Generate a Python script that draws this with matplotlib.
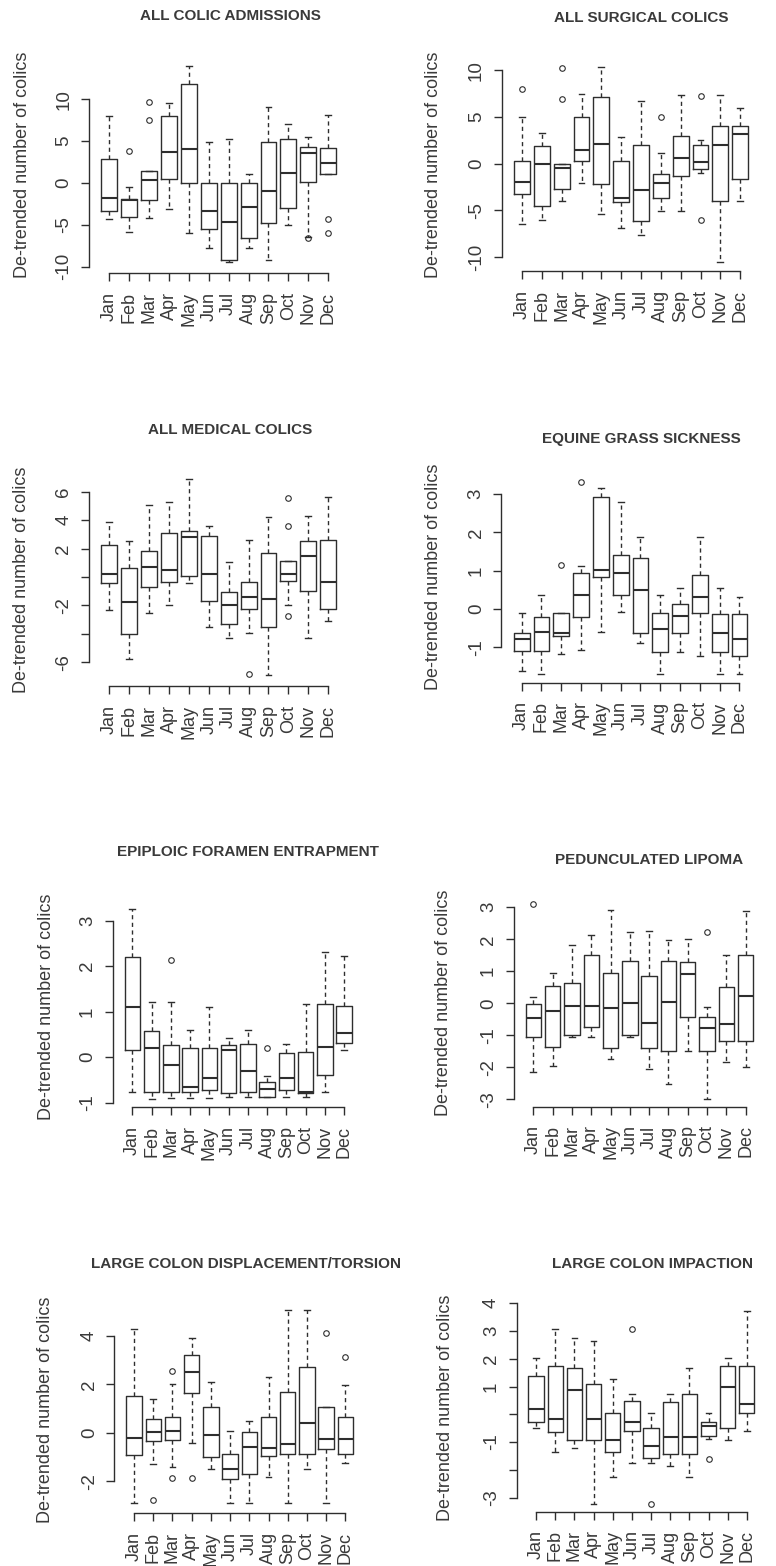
import matplotlib
matplotlib.use("Agg")
import matplotlib.pyplot as plt

plt.rcParams["font.family"] = ["Liberation Sans", "DejaVu Sans"]

INK = "#2e2e2e"
TXT = "#3a3a3a"

months = ["Jan", "Feb", "Mar", "Apr", "May", "Jun",
          "Jul", "Aug", "Sep", "Oct", "Nov", "Dec"]

# ---- ALL COLIC ADMISSIONS ----
adm_lo = [-4.35, -5.9, -4.23, -3.16, -6.02, -7.8, -9.4, -7.8, -9.13, -5.03, -6.42, 1.13]
adm_q1 = [-3.32, -4.1, -2.05, 0.5, 0.02, -5.43, -9.13, -6.62, -4.83, -3.04, 0.1, 1.13]
adm_med = [-1.77, -2.05, 0.34, 3.68, 4.08, -3.32, -4.63, -2.84, -0.97, 1.21, 3.6, 2.4]
adm_q3 = [2.88, -1.85, 1.45, 8.05, 11.79, 0.0, 0.0, 0.0, 4.95, 5.3, 4.31, 4.12]
adm_hi = [7.97, -0.46, 1.45, 9.56, 13.98, 4.9, 5.3, 1.13, 9.09, 7.1, 5.5, 8.17]
adm_out = {"Feb": [3.8], "Mar": [9.68, 7.5], "Nov": [-6.6], "Dec": [-4.28, -6.02]}

# ---- ALL SURGICAL COLICS ----
surg_lo = [-6.5, -6.04, -3.96, -2.04, -5.43, -6.86, -7.64, -5.04, -5.04, -0.96, -10.57, -4.04]
surg_q1 = [-3.25, -4.5, -2.71, 0.32, -2.14, -4.07, -6.1, -3.64, -1.29, -0.57, -4.04, -1.6]
surg_med = [-2.0, 0.0, -0.5, 1.46, 2.1, -3.71, -2.82, -2.04, 0.64, 0.18, 2.04, 3.18]
surg_q3 = [0.29, 1.93, 0.0, 5.0, 7.1, 0.25, 2.04, -1.07, 2.96, 2.0, 4.07, 4.07]
surg_hi = [4.96, 3.25, 0.0, 7.46, 10.4, 2.9, 6.75, 1.1, 7.36, 2.54, 7.36, 5.93]
surg_out = {"Jan": [7.96], "Mar": [10.3, 6.93], "Aug": [5.0], "Oct": [7.3, -6.04]}

# ---- ALL MEDICAL COLICS ----
med_lo = [-2.32, -5.79, -2.51, -1.99, -0.45, -3.54, -4.27, -3.91, -6.89, -2.0, -4.31, -3.07]
med_q1 = [-0.45, -4.0, -0.7, -0.37, 0.07, -1.69, -3.33, -2.27, -3.52, -0.3, -0.96, -2.27]
med_med = [0.21, -1.73, 0.68, 0.49, 2.84, 0.21, -1.99, -1.43, -1.57, 0.21, 1.5, -0.33]
med_q3 = [2.23, 0.63, 1.83, 3.09, 3.21, 2.9, -1.08, -0.35, 1.69, 1.1, 2.51, 2.6]
med_hi = [3.87, 2.55, 5.06, 5.25, 6.87, 3.61, 1.05, 2.6, 4.24, 1.1, 4.31, 5.65]
med_out = {"Aug": [-6.82], "Oct": [5.53, 3.61, -2.75]}

# ---- EQUINE GRASS SICKNESS ----
egs_lo = [-1.63, -1.7, -1.18, -1.07, -0.59, -0.09, -0.88, -1.7, -1.11, -1.22, -1.7, -1.7]
egs_q1 = [-1.1, -1.1, -0.7, -0.2, 0.83, 0.37, -0.63, -1.11, -0.63, -0.11, -1.11, -1.23]
egs_med = [-0.77, -0.6, -0.63, 0.37, 1.03, 0.93, 0.5, -0.53, -0.18, 0.32, -0.63, -0.77]
egs_q3 = [-0.62, -0.2, -0.11, 0.93, 2.91, 1.41, 1.32, -0.11, 0.12, 0.9, -0.13, -0.13]
egs_hi = [-0.11, 0.37, -0.11, 1.13, 3.15, 2.78, 1.89, 0.37, 0.54, 1.89, 0.54, 0.32]
egs_out = {"Mar": [1.15], "Apr": [3.32]}

# ---- EPIPLOIC FORAMEN ENTRAPMENT ----
efe_lo = [-0.76, -0.92, -0.91, -0.91, -0.91, -0.89, -0.89, -0.87, -0.89, -0.87, -0.78, 0.15]
efe_q1 = [0.15, -0.76, -0.76, -0.76, -0.73, -0.8, -0.78, -0.87, -0.72, -0.8, -0.39, 0.31]
efe_med = [1.1, 0.2, -0.17, -0.65, -0.47, 0.16, -0.31, -0.71, -0.46, -0.76, 0.21, 0.53]
efe_q3 = [2.19, 0.58, 0.26, 0.19, 0.19, 0.26, 0.28, -0.55, 0.09, 0.11, 1.16, 1.11]
efe_hi = [3.25, 1.21, 1.21, 0.59, 1.09, 0.42, 0.59, -0.41, 0.29, 1.16, 2.31, 2.22]
efe_out = {"Mar": [2.13], "Aug": [0.19]}

# ---- PEDUNCULATED LIPOMA ----
lip_lo = [-2.14, -1.96, -1.06, -1.06, -1.74, -1.06, -2.06, -2.52, -1.48, -3.0, -1.82, -1.98]
lip_q1 = [-1.06, -1.38, -0.99, -0.73, -1.41, -0.99, -1.41, -1.48, -0.42, -1.48, -1.17, -1.17]
lip_med = [-0.47, -0.24, -0.07, -0.08, -0.14, 0.0, -0.63, 0.03, 0.92, -0.78, -0.65, 0.23]
lip_q3 = [-0.02, 0.54, 0.63, 1.51, 0.94, 1.31, 0.85, 1.31, 1.29, -0.42, 0.5, 1.5]
lip_hi = [0.21, 0.94, 1.83, 2.15, 2.93, 2.22, 2.25, 1.99, 2.01, -0.1, 1.52, 2.88]
lip_out = {"Jan": [3.09], "Oct": [2.24]}

# ---- LARGE COLON DISPLACEMENT/TORSION ----
lcd_lo = [-2.9, -1.3, -1.43, -0.44, -1.52, -2.9, -2.9, -1.85, -2.9, -1.48, -2.9, -1.27]
lcd_q1 = [-0.92, -0.33, -0.3, 1.66, -0.99, -1.92, -1.71, -0.97, -0.86, -0.86, -0.69, -0.88]
lcd_med = [-0.21, 0.04, 0.08, 2.52, -0.1, -1.5, -0.58, -0.65, -0.47, 0.41, -0.26, -0.26]
lcd_q3 = [1.53, 0.57, 0.63, 3.21, 1.08, -0.86, 0.01, 0.66, 1.7, 2.7, 1.08, 0.63]
lcd_hi = [4.28, 1.38, 2.01, 3.93, 2.08, 0.08, 0.48, 2.29, 5.05, 5.05, 1.08, 1.97]
lcd_out = {"Feb": [-2.79], "Mar": [2.55, -1.89], "Apr": [-1.89], "Nov": [4.11], "Dec": [3.14]}

# ---- LARGE COLON IMPACTION ----
lci_lo = [-0.5, -1.34, -1.2, -3.24, -2.27, -1.76, -1.74, -1.86, -2.24, -0.9, -0.92, -0.6]
lci_q1 = [-0.26, -0.62, -0.92, -0.92, -1.34, -0.6, -1.58, -1.44, -1.44, -0.78, -0.5, 0.06]
lci_med = [0.18, -0.18, 0.88, -0.18, -0.92, -0.29, -1.13, -0.83, -0.83, -0.41, 1.0, 0.37]
lci_q3 = [1.39, 1.72, 1.68, 1.09, 0.06, 0.49, -0.5, 0.43, 0.72, -0.26, 1.72, 1.72]
lci_hi = [2.04, 3.06, 2.76, 2.64, 1.26, 0.73, 0.06, 0.73, 1.66, 0.06, 2.04, 3.7]
lci_out = {"Jun": [3.07], "Jul": [-3.24], "Oct": [-1.62]}

W, H = 776, 1566
fig = plt.figure(figsize=(W / 100, H / 100), dpi=100)
fig.patch.set_facecolor("white")


def panel(title, lo, q1, med, q3, hi, out, ticks, shown,
          x_jan, step, zero_px, px_per_unit, top_px, bottom_px,
          title_xy, ylab_xy):
    left_px = x_jan - 1.02 * step
    width_px = 12.04 * step
    ax = fig.add_axes([left_px / W, 1 - bottom_px / H,
                       width_px / W, (bottom_px - top_px) / H])
    ax.patch.set_alpha(0)
    stats = []
    for i, m in enumerate(months):
        stats.append(dict(whislo=lo[i], q1=q1[i], med=med[i], q3=q3[i],
                          whishi=hi[i], fliers=out.get(m, [])))
    ax.bxp(stats, positions=range(1, 13), widths=0.8, capwidths=0.3,
           showfliers=True,
           boxprops=dict(color=INK, lw=1.0),
           medianprops=dict(color=INK, lw=1.5, solid_capstyle="butt"),
           whiskerprops=dict(color=INK, lw=1.0, linestyle=(0, (3, 2.5))),
           capprops=dict(color=INK, lw=1.0),
           flierprops=dict(marker="o", markersize=4, markerfacecolor="none",
                           markeredgecolor=INK, markeredgewidth=0.8))
    ax.set_xlim(-0.02, 13.02)
    ax.set_ylim((zero_px - bottom_px) / px_per_unit,
                (zero_px - top_px) / px_per_unit)
    for s in ("top", "right"):
        ax.spines[s].set_visible(False)
    ax.spines["left"].set_bounds(min(ticks), max(ticks))
    ax.spines["bottom"].set_bounds(1, 12)
    for s in ("left", "bottom"):
        ax.spines[s].set_color(INK)
        ax.spines[s].set_linewidth(1.0)
    ax.set_xticks(range(1, 13))
    ax.set_xticklabels(months, rotation=90, fontsize=13, color=TXT)
    ax.set_yticks(ticks)
    ax.set_yticklabels([(str(t) if t in shown else "") for t in ticks],
                       rotation=90, va="center", fontsize=13.5, color=TXT)
    ax.tick_params(axis="x", length=5.5, width=1.0, color=INK, pad=8)
    ax.tick_params(axis="y", length=6.0, width=1.0, color=INK, pad=6)
    fig.text(title_xy[0] / W, 1 - title_xy[1] / H, title, ha="center",
             va="center", fontsize=11, fontweight="bold", color=TXT)
    fig.text(ylab_xy[0] / W, 1 - ylab_xy[1] / H, "De-trended number of colics",
             rotation=90, ha="center", va="center", fontsize=13, color=TXT)
    return ax


panel("ALL COLIC ADMISSIONS", adm_lo, adm_q1, adm_med, adm_q3, adm_hi, adm_out,
      [-10, -5, 0, 5, 10], [-10, -5, 0, 5, 10],
      111.0, 21.55, 183.0, 8.38, 60, 273, (230, 16.5), (23, 165))
panel("ALL SURGICAL COLICS", surg_lo, surg_q1, surg_med, surg_q3, surg_hi, surg_out,
      [-10, -5, 0, 5, 10], [-10, -5, 0, 5, 10],
      523.7, 21.48, 163.7, 9.33, 60, 271, (641, 17.5), (433, 165))
panel("ALL MEDICAL COLICS", med_lo, med_q1, med_med, med_q3, med_hi, med_out,
      [-6, -4, -2, 0, 2, 4, 6], [-6, -2, 2, 4, 6],
      111.0, 21.55, 577.0, 14.22, 474, 686, (230, 430), (22, 580))
panel("EQUINE GRASS SICKNESS", egs_lo, egs_q1, egs_med, egs_q3, egs_hi, egs_out,
      [-1, 0, 1, 2, 3], [-1, 0, 1, 2, 3],
      523.3, 21.45, 609.0, 38.33, 474, 682.7, (641, 439), (434, 577))
panel("EPIPLOIC FORAMEN ENTRAPMENT", efe_lo, efe_q1, efe_med, efe_q3, efe_hi, efe_out,
      [-1, 0, 1, 2, 3], [-1, 0, 1, 2, 3],
      134.0, 20.85, 1057.0, 45.5, 903, 1107, (248, 852), (47, 1007))
panel("PEDUNCULATED LIPOMA", lip_lo, lip_q1, lip_med, lip_q3, lip_hi, lip_out,
      [-3, -2, -1, 0, 1, 2, 3], [-3, -2, -1, 0, 1, 2, 3],
      535.0, 20.9, 1003.3, 32.0, 900, 1106.7, (649, 860), (443, 1003))
panel("LARGE COLON DISPLACEMENT/TORSION", lcd_lo, lcd_q1, lcd_med, lcd_q3, lcd_hi, lcd_out,
      [-2, 0, 2, 4], [-2, 0, 2, 4],
      135.7, 20.8, 1432.7, 24.2, 1305, 1513.3, (246, 1264), (46, 1410))
panel("LARGE COLON IMPACTION", lci_lo, lci_q1, lci_med, lci_q3, lci_hi, lci_out,
      [-3, -2, -1, 0, 1, 2, 3, 4], [-3, -1, 1, 2, 3, 4],
      537.7, 20.75, 1414.3, 27.8, 1303, 1511.7, (652, 1264), (446, 1408))

fig.savefig("out.png", dpi=100, facecolor="white")
